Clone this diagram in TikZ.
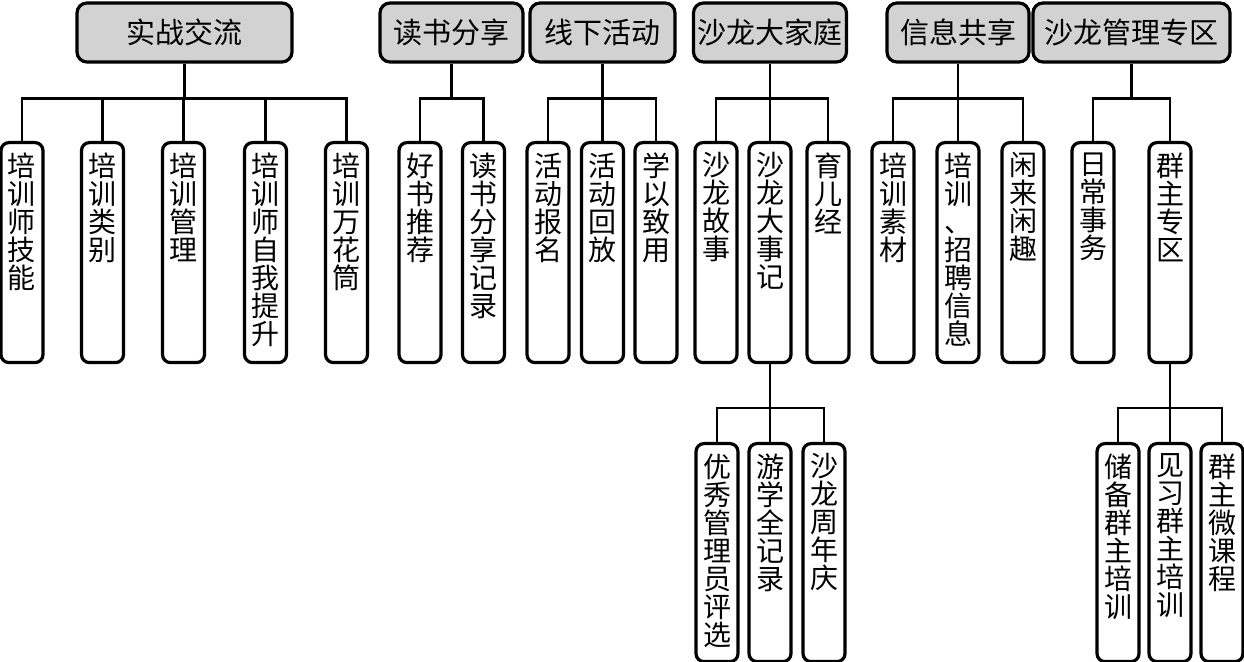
\documentclass[tikz,border=0pt]{standalone}
\usepackage{fontspec}
\newfontfamily\cjk{Noto Sans CJK SC}
\newcommand{\vtext}[2]{\parbox[c][#1][t]{16pt}{\centering #2}}

\begin{document}
\begin{tikzpicture}[x=0.5pt,y=-0.5pt,
    head/.style={draw, line width=1.6pt, rounded corners=5pt, fill=gray!35,
      minimum height=29.5pt, inner sep=0pt, font=\cjk\fontsize{14.5}{14.5}\selectfont},
    leaf/.style={draw, line width=1.6pt, rounded corners=4pt, fill=white,
      minimum width=21pt, inner xsep=0pt, inner ysep=5pt, anchor=north,
      font=\cjk\fontsize{14}{14}\selectfont},
    link/.style={line width=1.15pt}]
\useasboundingbox (0,0) rectangle (1244,662);
% first level
\node[head, minimum width=107.5pt] (sz) at (184.5,32.5) {实战交流};
\node[head, minimum width=71.5pt] (ds) at (451.5,32.5) {读书分享};
\node[head, minimum width=72.5pt] (xx) at (602.5,32.5) {线下活动};
\node[head, minimum width=76.5pt] (dj) at (770,32.5) {沙龙大家庭};
\node[head, minimum width=71pt] (xi) at (958,32.5) {信息共享};
\node[head, minimum width=98.5pt] (gl) at (1131.5,32.5) {沙龙管理专区};
% second level
\node[leaf] (sz1) at (22,141) {\vtext{100pt}{培\\训\\师\\技\\能}};
\node[leaf] (sz2) at (102.5,141) {\vtext{100pt}{培\\训\\类\\别}};
\node[leaf] (sz3) at (183.5,141) {\vtext{100pt}{培\\训\\管\\理}};
\node[leaf] (sz4) at (265.5,141) {\vtext{100pt}{培\\训\\师\\自\\我\\提\\升}};
\node[leaf] (sz5) at (346.5,141) {\vtext{100pt}{培\\训\\万\\花\\筒}};
\node[leaf] (ds1) at (420,141) {\vtext{100pt}{好\\书\\推\\荐}};
\node[leaf] (ds2) at (483.5,141) {\vtext{100pt}{读\\书\\分\\享\\记\\录}};
\node[leaf] (xx1) at (548,141) {\vtext{100pt}{活\\动\\报\\名}};
\node[leaf] (xx2) at (602.5,141) {\vtext{100pt}{活\\动\\回\\放}};
\node[leaf] (xx3) at (656,141) {\vtext{100pt}{学\\以\\致\\用}};
\node[leaf] (dj1) at (716,141) {\vtext{100pt}{沙\\龙\\故\\事}};
\node[leaf] (dj2) at (770,141) {\vtext{100pt}{沙\\龙\\大\\事\\记}};
\node[leaf] (dj3) at (828,141) {\vtext{100pt}{育\\儿\\经}};
\node[leaf] (xi1) at (893,141) {\vtext{100pt}{培\\训\\素\\材}};
\node[leaf] (xi2) at (958,141) {\vtext{100pt}{培\\训\\、\\招\\聘\\信\\息}};
\node[leaf] (xi3) at (1023,141) {\vtext{100pt}{闲\\来\\闲\\趣}};
\node[leaf] (gl1) at (1093,141) {\vtext{100pt}{日\\常\\事\\务}};
\node[leaf] (gl2) at (1170,141) {\vtext{100pt}{群\\主\\专\\区}};
% third level
\node[leaf] (dj21) at (717,442) {\vtext{99pt}{优\\秀\\管\\理\\员\\评\\选}};
\node[leaf] (dj22) at (770,442) {\vtext{99pt}{游\\学\\全\\记\\录}};
\node[leaf] (dj23) at (824,442) {\vtext{99pt}{沙\\龙\\周\\年\\庆}};
\node[leaf] (gl21) at (1118,442) {\vtext{99pt}{储\\备\\群\\主\\培\\训}};
\node[leaf] (gl22) at (1170,442) {\vtext{99pt}{见\\习\\群\\主\\培\\训}};
\node[leaf] (gl23) at (1222,442) {\vtext{99pt}{群\\主\\微\\课\\程}};
% connectors
\foreach \c in {sz1,sz2,sz3,sz4,sz5} \draw[link] (sz.south) -- ++(0,35) -| (\c.north);
\foreach \c in {ds1,ds2} \draw[link] (ds.south) -- ++(0,35) -| (\c.north);
\foreach \c in {xx1,xx2,xx3} \draw[link] (xx.south) -- ++(0,35) -| (\c.north);
\foreach \c in {dj1,dj2,dj3} \draw[link] (dj.south) -- ++(0,35) -| (\c.north);
\foreach \c in {xi1,xi2,xi3} \draw[link] (xi.south) -- ++(0,35) -| (\c.north);
\foreach \c in {gl1,gl2} \draw[link] (gl.south) -- ++(0,35) -| (\c.north);
\foreach \c in {dj21,dj22,dj23} \draw[link] (dj2.south) -- ++(0,44) -| (\c.north);
\foreach \c in {gl21,gl22,gl23} \draw[link] (gl2.south) -- ++(0,44) -| (\c.north);
\end{tikzpicture}
\end{document}
